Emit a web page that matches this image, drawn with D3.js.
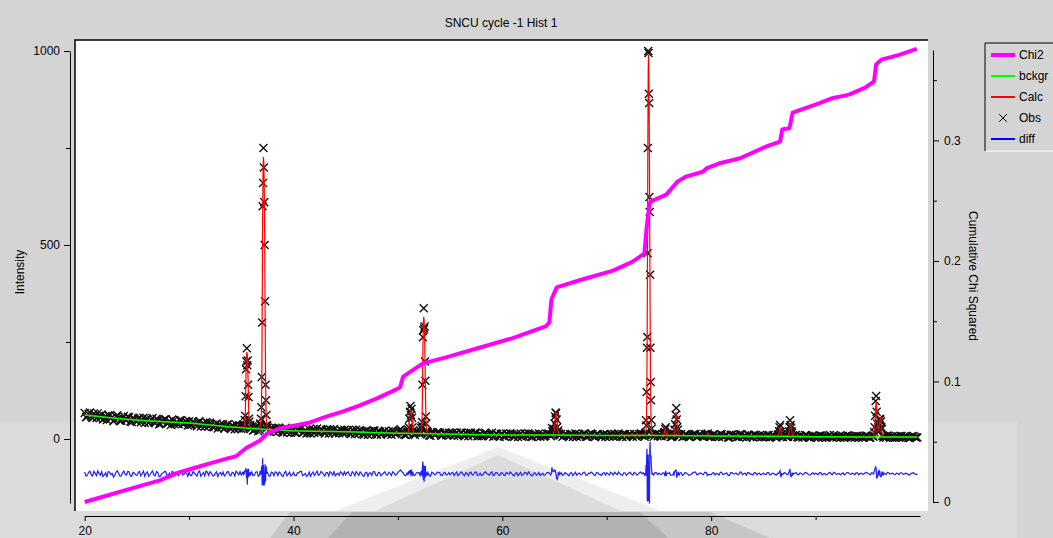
<!DOCTYPE html>
<html>
<head>
<meta charset="utf-8">
<script src="https://cdn.jsdelivr.net/npm/d3@7"></script>
<style>
  body { margin: 0; background: #d4d4d4; overflow: hidden; }
  svg { display: block; font-family: "Liberation Sans", Arial, sans-serif; }
</style>
</head>
<body>
<svg id="svg" width="1053" height="538"></svg>
<script>
// background (bckgr) knots
const bgX = [20, 22, 24, 26, 28, 30, 32, 34, 36, 38, 40, 42, 44, 46, 48, 50, 52, 54, 56, 58, 60, 65, 70, 75, 80, 85, 90, 95, 99.75]
const bgY = [62, 56, 51, 47, 44, 41, 36, 31, 27, 24, 21, 20, 19, 18, 16, 15, 14, 13, 12, 11, 10, 10, 9, 9, 8, 7, 6, 5, 5]

// observed counts outside the peaks, two interleaved 0.25 deg grids (null = covered by a peak table)
const obsStep = 0.25
const obsStart = 20
const obsValues = [
  67, 58, 68, 54, 61, 66, 54, 50, 59, 61, 53, 46, 58, 54, 47, 59, 48, 56, 44, 52,
  45, 55, 49, 41, 52, 45, 54, 41, 49, 39, 47, 51, 41, 36, 47, 44, 38, 48, 40, 44,
  46, 37, 42, 33, 46, 37, 32, 41, 42, 31, 36, 27, 37, 38, 30, 38, 26, 33, 37, 27,
  26, null, null, null, 32, 23, 32, 24, null, null, 29, 18, 27, 29, 19, 25, 16, 29, 21, 16,
  25, 16, 23, 27, 18, 14, 25, 21, 16, 27, 18, 23, 14, 23, 25, 16, 14, 21, 24, 15,
  16, 23, 13, 21, 24, 14, 19, 11, 21, 19, 13, 22, 11, 19, 15, 21, 12, 17, 21, 12,
  19, 25, 18, 10, null, null, null, 16, 17, null, null, null, 9, 18, 11, 17, 16, 9, 17, 11,
  10, 16, 13, 8, 17, 10, 15, 7, 16, 10, 16, 8, 7, 14, 12, 7, 16, 8, 13, 6,
  13, 6, 12, 15, 7, 11, 5, 14, 8, 13, 15, 6, 12, 7, 14, 9, 6, 13, 12, null,
  null, null, null, 6, 13, 8, 12, 5, 14, 10, 7, 13, 6, 11, 14, 7, 12, 8, 5, 12,
  12, 6, 11, 13, 7, 10, 5, 12, 9, 13, 6, 11, 8, 14, 12, null, null, null, 6, 12,
  11, 7, null, null, 12, 6, null, null, 10, 5, 12, 8, 6, 11, 13, 7, 10, 6, 12, null,
  6, 11, 9, 5, 12, 7, 10, 4, 11, 8, 6, 12, 5, 9, 11, 6, 4, 10, 8, 5,
  9, 5, 10, 6, 8, 4, null, null, 10, 5, null, null, 8, 5, 9, 4, 10, 6, 3, 9,
  8, 4, 9, 6, 3, 8, 5, 10, 4, 7, 6, 3, 9, 5, 7, 3, 8, 6, 4, 8,
  7, 3, null, null, null, null, null, 3, 8, 6, 4, 7, 3, 8, 5, 6, 2, 7, 5, 4
]
const obsHalfStart = 20.125
const obsHalfValues = [
  56, 65, 58, 66, 54, 59, 63, 53, 49, 60, 56, 50, 61, 47, 55, 50, 57, 45, 54, 47,
  52, 43, 55, 49, 41, 50, 43, 52, 38, 46, 50, 40, 46, 50, 38, 41, 48, 39, 46, 35,
  36, 46, 38, 43, 32, 41, 44, 32, 38, 30, 40, 35, 30, 27, 37, 29, 35, 25, 33, 35,
  33, null, null, null, 22, 31, 20, null, null, null, 20, 29, 19, 27, 28, 18, 25, 17, 26, 19,
  17, 24, 27, 16, 22, 17, 14, 25, 21, 16, 26, 18, 23, 14, 22, 25, 18, 15, 21, 24,
  22, 15, 24, 13, 19, 23, 13, 20, 11, 19, 22, 13, 20, 11, 18, 14, 20, 11, 18, 14,
  22, 20, 11, 17, null, null, 10, 18, null, null, null, 17, 8, 16, 12, 17, 9, 15, 10, 16,
  15, 8, 17, 10, 16, 7, 13, 15, 8, 16, 7, 13, 8, 16, 10, 13, 6, 14, 8, 13,
  7, 14, 9, 12, 5, 13, 10, 6, 14, 8, 11, 5, 13, 9, 6, 12, 8, 14, 7, null,
  null, null, 13, 8, 11, 5, 13, 9, 6, 12, 8, 14, 6, 10, 12, 5, 13, 8, 11, 6,
  9, 13, 6, 10, 14, 7, 12, 5, 11, 8, 13, 6, 12, 9, 6, null, null, 11, 13, 7,
  8, 12, null, 10, 5, null, null, null, 12, 7, 11, 5, 9, 13, 6, 10, 8, 12, null, 6,
  10, 5, 8, 12, 6, 9, 4, 11, 7, 10, 5, 12, 8, 4, 10, 7, 11, 5, 9, 6,
  6, 10, 4, 9, 5, 8, null, 5, 8, null, null, 6, 10, 4, 8, 6, 9, 4, 7, 5,
  6, 9, 3, 7, 5, 10, 4, 8, 6, 3, 8, 5, 9, 4, 6, 8, 3, 7, 5, 9,
  4, 8, null, null, null, null, 6, 9, 4, 7, 3, 6, 8, 4, 7, 3, 6, 8, 4, null
]

// peak tables: [2theta, obs, calc]
const peakA = [[35.17, 33, 30], [35.21, 27, 31], [35.25, 38, 32], [35.29, 35, 35], [35.33, 49, 40], [35.37, 60, 55], [35.41, 110, 100], [35.45, 180, 165], [35.49, 200, 210], [35.53, 234, 224], [35.57, 190, 218], [35.61, 202, 190], [35.65, 140, 150], [35.69, 108, 95], [35.73, 52, 58], [35.77, 45, 42], [35.81, 29, 35], [35.85, 36, 31], [35.89, 26, 29]]
const peakB = [[36.76, 30, 30], [36.80, 40, 33], [36.84, 36, 38], [36.88, 52, 48], [36.92, 82, 70], [36.96, 160, 140], [37.00, 300, 330], [37.04, 600, 560], [37.08, 660, 690], [37.12, 750, 727], [37.16, 700, 710], [37.20, 610, 640], [37.24, 500, 520], [37.28, 355, 330], [37.32, 140, 160], [37.36, 100, 80], [37.40, 62, 48], [37.44, 36, 35], [37.48, 34, 30]]
const peakC = [[50.90, 18, 16], [50.95, 14, 17], [51.00, 24, 20], [51.05, 30, 28], [51.10, 52, 45], [51.15, 70, 66], [51.20, 85, 75], [51.25, 62, 68], [51.30, 78, 70], [51.35, 55, 50], [51.40, 30, 32], [51.45, 22, 20], [51.50, 13, 16]]
const peakD = [[52.11, 12, 16], [52.15, 21, 17], [52.19, 17, 19], [52.23, 28, 22], [52.27, 34, 30], [52.31, 44, 50], [52.35, 140, 120], [52.39, 262, 230], [52.43, 280, 295], [52.47, 337, 315], [52.51, 285, 305], [52.55, 290, 270], [52.59, 200, 210], [52.63, 150, 130], [52.67, 58, 65], [52.71, 40, 35], [52.75, 18, 22], [52.79, 20, 17], [52.83, 12, 15]]
const peakE = [[64.70, 12, 10], [64.75, 28, 11], [64.80, 20, 11], [64.85, 18, 12], [64.90, 22, 14], [64.95, 26, 19], [65.00, 40, 30], [65.05, 58, 48], [65.10, 68, 64], [65.15, 66, 70], [65.20, 50, 62], [65.25, 30, 44], [65.30, 18, 28], [65.35, 22, 18], [65.40, 10, 13], [65.45, 14, 11], [65.50, 9, 10]]
const peakF = [[73.64, 12, 11], [73.67, 10, 12], [73.70, 16, 14], [73.73, 14, 18], [73.76, 48, 25], [73.79, 35, 40], [73.82, 121, 80], [73.85, 235, 170], [73.88, 263, 330], [73.91, 479, 550], [73.94, 750, 800], [73.97, 1000, 950], [74.00, 995, 990], [74.03, 890, 960], [74.06, 866, 860], [74.09, 624, 700], [74.12, 585, 520], [74.15, 423, 340], [74.18, 235, 190], [74.21, 147, 100], [74.24, 100, 55], [74.27, 49, 30], [74.30, 27, 18], [74.33, 11, 13], [74.36, 13, 11]]
const peakG = [[75.45, 12, 10], [75.50, 16, 14], [75.55, 18, 22], [75.60, 26, 29], [75.65, 30, 22], [75.70, 8, 14], [75.75, 12, 10]]
const peakH = [[76.35, 8, 10], [76.40, 14, 11], [76.45, 12, 13], [76.50, 24, 18], [76.55, 38, 30], [76.60, 62, 52], [76.65, 80, 70], [76.70, 50, 58], [76.75, 30, 36], [76.80, 24, 20], [76.85, 10, 13], [76.90, 12, 10], [76.95, 7, 9]]
const peakI = [[79.57, 11, 9], [79.62, 8, 12], [79.67, 14, 15], [79.72, 10, 12], [79.77, 7, 9]]
const peakJ = [[86.40, 10, 8], [86.45, 12, 11], [86.50, 20, 17], [86.55, 30, 24], [86.60, 36, 28], [86.65, 18, 24], [86.70, 10, 17], [86.75, 13, 11], [86.80, 6, 8]]
const peakK = [[87.35, 6, 8], [87.40, 12, 10], [87.45, 20, 15], [87.50, 30, 24], [87.55, 48, 35], [87.60, 36, 41], [87.65, 28, 35], [87.70, 20, 24], [87.75, 16, 15], [87.80, 8, 10], [87.85, 9, 8]]
const peakLM = [[95.50, 8, 6], [95.55, 6, 8], [95.60, 18, 12], [95.65, 30, 22], [95.70, 60, 45], [95.75, 98, 80], [95.80, 111, 96], [95.85, 70, 80], [95.90, 40, 50], [95.95, 24, 30], [96.00, 30, 22], [96.05, 20, 24], [96.10, 40, 32], [96.15, 52, 46], [96.20, 50, 57], [96.25, 45, 52], [96.30, 30, 36], [96.35, 26, 20], [96.40, 8, 11], [96.45, 9, 7], [96.50, 4, 6], [96.55, 7, 5]]

// cumulative chi squared
const chi2X = [20.0, 22.4, 24.0, 25.6, 27.2, 28.8, 30.4, 32.0, 33.6, 34.5, 35.5, 36.8, 37.5, 38.7, 41.6, 43.2, 44.7, 46.3, 48.0, 49.5, 50.2, 50.5, 52.4, 54.6, 57.8, 61.0, 64.2, 64.5, 64.7, 65.2, 67.4, 70.6, 72.4, 73.6, 73.8, 74.1, 74.4, 75.7, 76.8, 77.6, 79.2, 79.6, 80.8, 82.7, 84.0, 85.3, 86.6, 86.8, 87.5, 87.8, 89.1, 90.4, 91.6, 93.2, 94.8, 95.6, 95.8, 96.3, 98.0, 99.7]
const chi2Y = [0.000, 0.006, 0.010, 0.014, 0.018, 0.024, 0.028, 0.032, 0.036, 0.038, 0.045, 0.051, 0.057, 0.061, 0.066, 0.071, 0.075, 0.080, 0.086, 0.092, 0.095, 0.104, 0.115, 0.120, 0.128, 0.136, 0.146, 0.149, 0.168, 0.178, 0.184, 0.192, 0.199, 0.206, 0.226, 0.248, 0.250, 0.255, 0.266, 0.270, 0.274, 0.277, 0.281, 0.285, 0.290, 0.295, 0.299, 0.309, 0.310, 0.323, 0.327, 0.331, 0.335, 0.338, 0.344, 0.349, 0.363, 0.367, 0.371, 0.376]

const diffOffset = -90
const xTicks = [20, 40, 60, 80]
const xMinor = [30, 50, 70, 90]
const yTicks = [0, 500, 1000]
const yMinor = [250, 750]
const chiTicks = [0, 0.1, 0.2, 0.3]
const chiMinor = [0.05, 0.15, 0.25, 0.35]
const legendNames = ['Chi2', 'bckgr', 'Calc', 'Obs', 'diff']
const legendColors = ['#ff00ff', '#00ff00', '#ff0000', '#000000', '#0000ff']

const peaks = [peakA, peakB, peakC, peakD, peakE, peakF, peakG, peakH, peakI, peakJ, peakK, peakLM]

const plot = { left: 75, top: 40, right: 928, bottom: 511 }

const x = d3.scaleLinear().domain([20, 100]).range([84.7, 920])
const y = d3.scaleLinear().domain([-165, 1000]).range([503, 51])
const yChi = d3.scaleLinear().domain([0, 0.375]).range([502, 50])
const bgAt = d3.scaleLinear().domain(bgX).range(bgY)

const inPeak = v => peaks.some(p => v >= p[0][0] - 1e-6 && v <= p[p.length - 1][0] + 1e-6)

// obs points with their calc value
const obsPts = []
const addGrid = (start, values) => values.forEach((v, i) => {
  if (v === null) return
  const t = start + i * obsStep
  obsPts.push({ x: t, obs: v, calc: bgAt(t) })
})
addGrid(obsStart, obsValues)
addGrid(obsHalfStart, obsHalfValues)
peaks.forEach(p => p.forEach(r => obsPts.push({ x: r[0], obs: r[1], calc: r[2] })))
obsPts.sort((a, b) => a.x - b.x)

const calcPts = bgX.map((t, i) => ({ x: t, y: bgY[i] }))
  .filter(d => !inPeak(d.x))
  .concat(peaks.flatMap(p => p.map(r => ({ x: r[0], y: r[2] }))))
  .sort((a, b) => a.x - b.x)

const diffPts = obsPts.map(d => ({ x: d.x, y: d.obs - d.calc + diffOffset }))

const svg = d3.select('#svg')

// window background and screen-capture shading
svg.append('rect').attr('x', 0).attr('y', 422).attr('width', 1017).attr('height', 116).attr('fill', '#dbdbdb')
svg.append('polygon').attr('points', '290,512 710,512 770,538 270,538').attr('fill', '#c6c6c6')
svg.append('polygon').attr('points', '352,512 640,512 668,538 328,538').attr('fill', '#b2b2b2')

// plot box
svg.append('rect')
  .attr('x', plot.left).attr('y', plot.top)
  .attr('width', plot.right - plot.left).attr('height', plot.bottom - plot.top)
  .attr('fill', '#fff')

svg.append('clipPath').attr('id', 'clip')
  .append('rect')
  .attr('x', plot.left).attr('y', plot.top)
  .attr('width', plot.right - plot.left).attr('height', plot.bottom - plot.top)

const inner = svg.append('g').attr('clip-path', 'url(#clip)')

inner.append('polygon').attr('points', '335,511 498,447 661,511').attr('fill', '#eeeeee')
inner.append('polygon').attr('points', '375,511 498,455 621,511').attr('fill', '#dcdcdc')

// Obs
inner.append('g')
  .selectAll('path')
  .data(obsPts)
  .enter()
  .append('path')
  .attr('transform', d => `translate(${x(d.x)},${y(d.obs)})`)
  .attr('d', 'M-4,-4L4,4M-4,4L4,-4')
  .attr('stroke', '#111')
  .attr('stroke-width', 1.4)
  .attr('fill', 'none')

// Calc
inner.append('path')
  .datum(calcPts)
  .attr('d', d3.line().x(d => x(d.x)).y(d => y(d.y)))
  .attr('fill', 'none')
  .attr('stroke', '#ff0000')
  .attr('stroke-width', 1.2)

// bckgr
inner.append('path')
  .datum(bgX.map((t, i) => ({ x: t, y: bgY[i] })))
  .attr('d', d3.line().x(d => x(d.x)).y(d => y(d.y)))
  .attr('fill', 'none')
  .attr('stroke', '#00ff00')
  .attr('stroke-width', 1.5)

// diff
inner.append('path')
  .datum(diffPts)
  .attr('d', d3.line().x(d => x(d.x)).y(d => y(d.y)))
  .attr('fill', 'none')
  .attr('stroke', '#1f1fff')
  .attr('stroke-width', 1.2)

// Chi2
inner.append('path')
  .datum(chi2X.map((t, i) => ({ x: t, y: chi2Y[i] })))
  .attr('d', d3.line().x(d => x(d.x)).y(d => yChi(d.y)))
  .attr('fill', 'none')
  .attr('stroke', '#ff00ff')
  .attr('stroke-width', 4)
  .attr('stroke-linejoin', 'round')

// box border (top and left dark)
svg.append('path')
  .attr('d', `M${plot.left},${plot.bottom}V${plot.top}H${plot.right}`)
  .attr('fill', 'none').attr('stroke', '#000').attr('stroke-width', 1.5)

// axes
const styleAxis = g => {
  g.attr('font-size', 12).attr('font-family', null).attr('color', '#000')
}

svg.append('g').attr('transform', 'translate(70,0)')
  .call(d3.axisLeft(y).tickValues(yTicks).tickSize(6).tickSizeOuter(0).tickPadding(4).tickFormat(d3.format('d')))
  .call(styleAxis)
svg.append('g').attr('transform', 'translate(70,0)')
  .call(d3.axisLeft(y).tickValues(yMinor).tickSize(4).tickFormat(''))
  .call(g => g.select('.domain').remove())

svg.append('g').attr('transform', 'translate(933,0)')
  .call(d3.axisRight(yChi).tickValues(chiTicks).tickSize(6).tickSizeOuter(0).tickPadding(5).tickFormat(d3.format('~g')))
  .call(styleAxis)
svg.append('g').attr('transform', 'translate(933,0)')
  .call(d3.axisRight(yChi).tickValues(chiMinor).tickSize(4).tickFormat(''))
  .call(g => g.select('.domain').remove())

svg.append('g').attr('transform', 'translate(0,516)')
  .call(d3.axisBottom(x).tickValues(xTicks).tickSize(5).tickSizeOuter(0).tickPadding(5))
  .call(styleAxis)
svg.append('g').attr('transform', 'translate(0,516)')
  .call(d3.axisBottom(x).tickValues(xMinor).tickSize(4).tickFormat(''))
  .call(g => g.select('.domain').remove())

// titles
svg.append('text')
  .text('SNCU cycle -1 Hist 1')
  .attr('x', 501).attr('y', 27)
  .attr('text-anchor', 'middle').attr('font-size', 12)

svg.append('text')
  .text('Intensity')
  .attr('transform', 'translate(24,272) rotate(-90)')
  .attr('text-anchor', 'middle').attr('font-size', 12)

svg.append('text')
  .text('Cumulative Chi Squared')
  .attr('transform', 'translate(969,276) rotate(90)')
  .attr('text-anchor', 'middle').attr('font-size', 12)

// legend
const legend = svg.append('g')
legend.append('path').attr('d', 'M1053,43H985V151').attr('fill', 'none').attr('stroke', '#000').attr('stroke-width', 1)
legend.append('path').attr('d', 'M986,151H1053').attr('fill', 'none').attr('stroke', '#fff').attr('stroke-width', 1)

const rows = legend.selectAll('g.row')
  .data(legendNames)
  .enter()
  .append('g')
  .attr('class', 'row')
  .attr('transform', (d, i) => `translate(0,${55 + i * 21})`)

rows.filter(d => d !== 'Obs')
  .append('line')
  .attr('x1', 991).attr('x2', 1015).attr('y1', 0).attr('y2', 0)
  .attr('stroke', d => legendColors[legendNames.indexOf(d)])
  .attr('stroke-width', d => d === 'Chi2' ? 4 : 2)

rows.filter(d => d === 'Obs')
  .append('path')
  .attr('d', 'M999,-4L1007,4M999,4L1007,-4')
  .attr('stroke', '#000').attr('stroke-width', 1)

rows.append('text')
  .text(d => d)
  .attr('x', 1019).attr('y', 0).attr('dy', '0.35em')
  .attr('font-size', 12)
</script>
</body>
</html>
